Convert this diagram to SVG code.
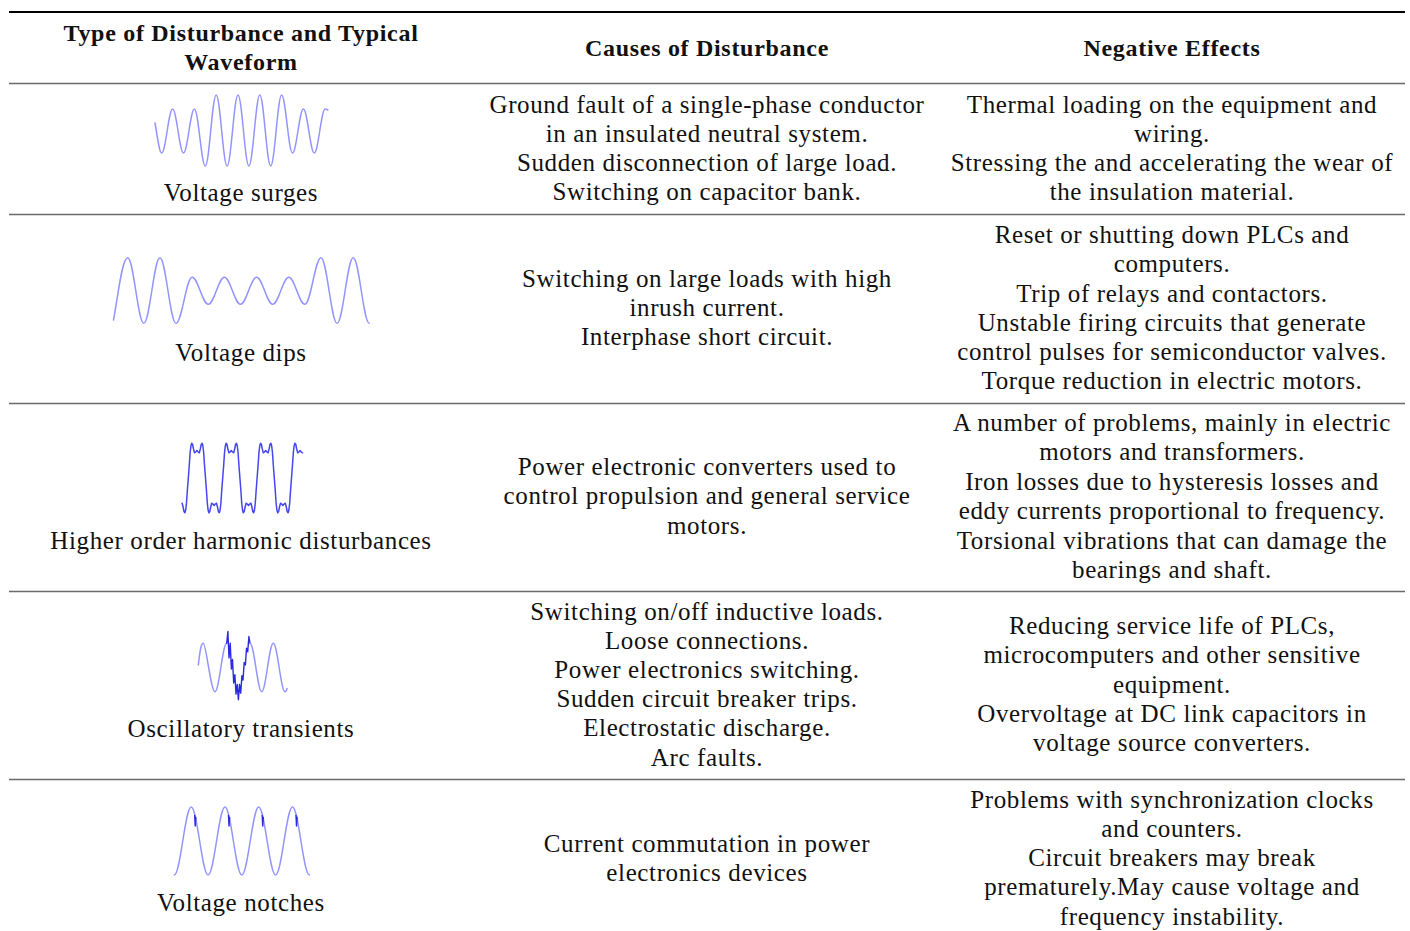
<svg xmlns="http://www.w3.org/2000/svg" width="1410" height="931" viewBox="0 0 1410 931">
<style>
.t{font-family:"Liberation Serif","Times New Roman",serif;font-size:25px;letter-spacing:0.62px;fill:#111;text-anchor:middle}
.h{font-family:"Liberation Serif","Times New Roman",serif;font-size:24px;letter-spacing:0.7px;font-weight:bold;fill:#111;text-anchor:middle}
.rule{stroke:#6a6a6a;stroke-width:1.3}
.wl{fill:none;stroke:#9494ff;stroke-width:1.5;stroke-linejoin:round;stroke-linecap:round}
.wd{fill:none;stroke:#4646ee;stroke-width:1.5;stroke-linejoin:round;stroke-linecap:round}
.wx{fill:none;stroke:#2a2ae0;stroke-width:1.4;stroke-linejoin:round;stroke-linecap:round}
</style>
<rect width="1410" height="931" fill="#fff"/>
<g id="rules">
<line x1="9" y1="12" x2="1405" y2="12" stroke="#000" stroke-width="2.2"/>
<line class="rule" x1="9" y1="83.5" x2="1405" y2="83.5"/>
<line class="rule" x1="9" y1="214.5" x2="1405" y2="214.5"/>
<line class="rule" x1="9" y1="403.5" x2="1405" y2="403.5"/>
<line class="rule" x1="9" y1="591.5" x2="1405" y2="591.5"/>
<line class="rule" x1="9" y1="779.5" x2="1405" y2="779.5"/>
</g>
<g id="header">
<text class="h" x="241" y="41">Type of Disturbance and Typical</text>
<text class="h" x="241" y="70">Waveform</text>
<text class="h" x="707" y="56">Causes of Disturbance</text>
<text class="h" x="1172" y="56">Negative Effects</text>
</g>
<g id="row1">
<path class="wl" d="M155,123 C157.5,137 159.3,153 161.7,153 C165.7,153 168.6,109 172.6,109 S179.5,153 183.5,153 S190.4,109 194.4,109 S201.3,166 205.3,166 S212.2,95 216.2,95 S223.1,166 227.1,166 S234,95 238,95 S244.9,166 248.9,166 S255.8,95 259.8,95 S266.7,166 270.7,166 S277.6,95 281.6,95 S288.5,153 292.5,153 S299.4,109 303.4,109 S310.3,153 314.3,153 S321.2,109 325.2,109 C326.2,109 327,109.5 327.8,110"/>
<text class="t" x="241" y="201">Voltage surges</text>
<text class="t" x="707" y="113">Ground fault of a single-phase conductor</text>
<text class="t" x="707" y="142">in an insulated neutral system.</text>
<text class="t" x="707" y="171">Sudden disconnection of large load.</text>
<text class="t" x="707" y="200">Switching on capacitor bank.</text>
<text class="t" x="1172" y="113">Thermal loading on the equipment and</text>
<text class="t" x="1172" y="142">wiring.</text>
<text class="t" x="1172" y="171">Stressing the and accelerating the wear of</text>
<text class="t" x="1172" y="200">the insulation material.</text>
</g>
<g id="row2">
<path class="wl" d="M113.5,320 C117.5,300 121.8,257.7 127.7,257.7 S137.9,323.3 143.8,323.3 S154,257.7 159.9,257.7 S170.1,323.3 176,323.3 S186.2,277.3 192.1,277.3 S202.4,304.3 208.3,304.3 S218.5,277.3 224.4,277.3 S234.6,304.3 240.5,304.3 S250.7,277.3 256.6,277.3 S266.8,304.3 272.7,304.3 S282.9,277.3 288.8,277.3 S299,304.3 304.9,304.3 S315.1,257.7 321,257.7 S331.2,323.3 337.1,323.3 S347.3,257.7 353.2,257.7 S363.4,323.3 369.3,323.3"/>
<text class="t" x="241" y="361">Voltage dips</text>
<text class="t" x="707" y="287">Switching on large loads with high</text>
<text class="t" x="707" y="316">inrush current.</text>
<text class="t" x="707" y="345">Interphase short circuit.</text>
<text class="t" x="1172" y="243">Reset or shutting down PLCs and</text>
<text class="t" x="1172" y="272">computers.</text>
<text class="t" x="1172" y="302">Trip of relays and contactors.</text>
<text class="t" x="1172" y="331">Unstable firing circuits that generate</text>
<text class="t" x="1172" y="360">control pulses for semiconductor valves.</text>
<text class="t" x="1172" y="389">Torque reduction in electric motors.</text>
</g>
<g id="row3">
<path class="wd" d="M182.1,503.2 l1,3.8 0.9,4.5 0.9,1.2 0.8,-2.7 0.8,-7 0.8,-12 1,-13
l1,-13 0.8,-12 0.8,-7 0.8,-2.7 0.9,1.2 0.9,4.5 1,3.8 1.2,-0.8 1.2,-1.5 1.2,1.5 1.2,0.8 1,-3.8 0.9,-4.5 0.9,-1.2 0.8,2.7 0.8,7 0.8,12 1,13
l1,13 0.8,12 0.8,7 0.8,2.7 0.9,-1.2 0.9,-4.5 1,-3.8 1.2,0.8 1.2,1.5 1.2,-1.5 1.2,-0.8 1,3.8 0.9,4.5 0.9,1.2 0.8,-2.7 0.8,-7 0.8,-12 1,-13
l1,-13 0.8,-12 0.8,-7 0.8,-2.7 0.9,1.2 0.9,4.5 1,3.8 1.2,-0.8 1.2,-1.5 1.2,1.5 1.2,0.8 1,-3.8 0.9,-4.5 0.9,-1.2 0.8,2.7 0.8,7 0.8,12 1,13
l1,13 0.8,12 0.8,7 0.8,2.7 0.9,-1.2 0.9,-4.5 1,-3.8 1.2,0.8 1.2,1.5 1.2,-1.5 1.2,-0.8 1,3.8 0.9,4.5 0.9,1.2 0.8,-2.7 0.8,-7 0.8,-12 1,-13
l1,-13 0.8,-12 0.8,-7 0.8,-2.7 0.9,1.2 0.9,4.5 1,3.8 1.2,-0.8 1.2,-1.5 1.2,1.5 1.2,0.8 1,-3.8 0.9,-4.5 0.9,-1.2 0.8,2.7 0.8,7 0.8,12 1,13
l1,13 0.8,12 0.8,7 0.8,2.7 0.9,-1.2 0.9,-4.5 1,-3.8 1.2,0.8 1.2,1.5 1.2,-1.5 1.2,-0.8 1,3.8 0.9,4.5 0.9,1.2 0.8,-2.7 0.8,-7 0.8,-12 1,-13
l1,-13 0.8,-12 0.8,-7 0.8,-2.7 0.9,1.2 0.9,4.5 1,3.8 1.2,-0.8 1.2,-1.5 1.2,1.5 1.2,0.8"/>
<text class="t" x="241" y="549">Higher order harmonic disturbances</text>
<text class="t" x="707" y="475">Power electronic converters used to</text>
<text class="t" x="707" y="504">control propulsion and general service</text>
<text class="t" x="707" y="534">motors.</text>
<text class="t" x="1172" y="431">A number of problems, mainly in electric</text>
<text class="t" x="1172" y="460">motors and transformers.</text>
<text class="t" x="1172" y="490">Iron losses due to hysteresis losses and</text>
<text class="t" x="1172" y="519">eddy currents proportional to frequency.</text>
<text class="t" x="1172" y="549">Torsional vibrations that can damage the</text>
<text class="t" x="1172" y="578">bearings and shaft.</text>
</g>
<g id="row4">
<path class="wl" d="M198.3,665 C199.6,655 200.5,643.3 203.3,643.3 S210.8,691.7 215,691.7 S222.5,643.3 226.7,643.3"/>
<path class="wx" d="M226.7,643.3 L227.9,631.5 229,657.9 230.2,643.3 231.4,669 232.5,659.5 233.7,683 234.9,674.7 236,694.1 237.2,684.5 238.4,699.7 239.5,684.5 240.7,693.1 241.9,675.7 243,680 244.2,662.5 245.4,665 246.5,648.3 247.7,651.9 248.9,636.5 250,643.3"/>
<path class="wl" d="M250,643.3 C254.25,643.3 257.5,691.7 261.7,691.7 S269.1,643.3 273.3,643.3 S280.8,691.7 285,691.7 C286,691.7 286.6,690 287,688.5"/>
<text class="t" x="241" y="737">Oscillatory transients</text>
<text class="t" x="707" y="620">Switching on/off inductive loads.</text>
<text class="t" x="707" y="649">Loose connections.</text>
<text class="t" x="707" y="678">Power electronics switching.</text>
<text class="t" x="707" y="707">Sudden circuit breaker trips.</text>
<text class="t" x="707" y="736">Electrostatic discharge.</text>
<text class="t" x="707" y="766">Arc faults.</text>
<text class="t" x="1172" y="634">Reducing service life of PLCs,</text>
<text class="t" x="1172" y="663">microcomputers and other sensitive</text>
<text class="t" x="1172" y="693">equipment.</text>
<text class="t" x="1172" y="722">Overvoltage at DC link capacitors in</text>
<text class="t" x="1172" y="751">voltage source converters.</text>
</g>
<g id="row5">
<path class="wl" d="M174.3,875 C180.45,875 185.05,807 191.2,807 S201.95,875 208.1,875 S218.85,807 225,807 S235.65,875 241.8,875 S252.55,807 258.7,807 S269.45,875 275.6,875 S286.35,807 292.5,807 S303.25,875 309.4,875"/>
<path class="wx" d="M194.7,815.5 L195.2,826 195.8,817.5 M228.5,815.5 L229,826 229.6,817.5 M262.2,815.5 L262.7,826 263.3,817.5 M296,815.5 L296.5,826 297.1,817.5"/>
<text class="t" x="241" y="911">Voltage notches</text>
<text class="t" x="707" y="852">Current commutation in power</text>
<text class="t" x="707" y="881">electronics devices</text>
<text class="t" x="1172" y="808">Problems with synchronization clocks</text>
<text class="t" x="1172" y="837">and counters.</text>
<text class="t" x="1172" y="866">Circuit breakers may break</text>
<text class="t" x="1172" y="895">prematurely.May cause voltage and</text>
<text class="t" x="1172" y="925">frequency instability.</text>
</g>
</svg>
